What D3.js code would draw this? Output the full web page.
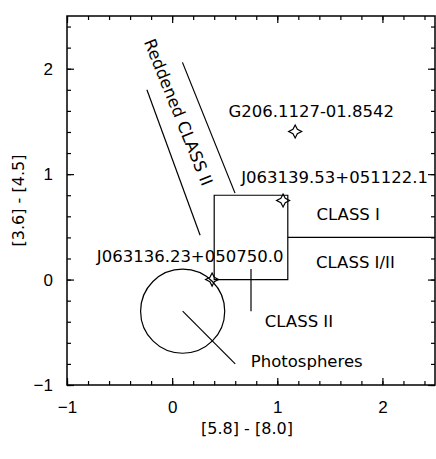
<!DOCTYPE html>
<meta charset="utf-8">
<style>
    body { margin: 0; background: #fff; }
    .tick text { font: 17px "Liberation Sans", Arial, sans-serif; fill: #000; }
    .axis path { display: none; }
    .axis line { stroke: #000; stroke-width: 1.2; }
    .ann { font: 16.5px "DejaVu Sans", sans-serif; fill: #000; }
    .title { font: 16px "DejaVu Sans", sans-serif; fill: #000; }
    .shape { fill: none; stroke: #000; stroke-width: 1.2; }
</style>
<body>
<script src="https://cdn.jsdelivr.net/npm/d3@7"></script>
<script>

    // axis ticks
    var xTicks = [-1, 0, 1, 2];
    var yTicks = [-1, 0, 1, 2];
    var minorTicks = [-1, -0.8, -0.6, -0.4, -0.2, 0, 0.2, 0.4, 0.6, 0.8, 1, 1.2, 1.4, 1.6, 1.8, 2, 2.2, 2.4];

    // class regions (data units)
    var classIBox = [[0.4, 0], [0.4, 0.8], [1.1, 0.8], [1.1, 0]];
    var classDivider = [[1.1, 0.4], [2.5, 0.4]];
    var classIIMark = [[0.75, 0.1], [0.75, -0.3]];
    var photoCenter = [0.1, -0.3], photoRadius = 0.4;
    var photoPointer = [[0.1, -0.3], [0.6, -0.8]];
    var reddenedUpper = [[0.098, 2.06], [0.598, 0.82]];
    var reddenedLower = [[-0.24, 1.80], [0.266, 0.42]];

    // sources
    var sourceNames = ["G206.1127-01.8542", "J063139.53+051122.1", "J063136.23+050750.0"];
    var sourceX = [1.17, 1.055, 0.38];
    var sourceY = [1.405, 0.75, 0.0];
    var sourceLabelX = [1.323, 1.545, 0.171];
    var sourceLabelY = [1.546, 0.914, 0.169];

    // region labels
    var regionLabels = ["CLASS I", "CLASS I/II", "CLASS II", "Photospheres"];
    var regionLabelX = [1.675, 1.743, 1.206, 1.28];
    var regionLabelY = [0.565, 0.109, -0.451, -0.83];

    var margin = { top: 16, right: 1, bottom: 74, left: 67 },
        width = 436 - margin.left - margin.right,
        height = 459 - margin.top - margin.bottom;

    var x = d3.scaleLinear().domain([-1, 2.5]).range([0, width]);
    var y = d3.scaleLinear().domain([-1, 2.5]).range([height, 0]);
    var fmt = d3.format("d");

    var svg = d3.select("body").append("svg")
        .attr("width", 436)
        .attr("height", 459)
        .append("g")
        .attr("transform", "translate(" + margin.left + "," + margin.top + ")");

    svg.append("clipPath").attr("id", "clip")
        .append("rect").attr("width", width).attr("height", height);

    // minor ticks on all four sides
    svg.append("g").attr("class", "axis").attr("transform", "translate(0," + height + ")")
        .call(d3.axisBottom(x).tickValues(minorTicks).tickSize(-4).tickFormat(""));
    svg.append("g").attr("class", "axis")
        .call(d3.axisTop(x).tickValues(minorTicks).tickSize(-4).tickFormat(""));
    svg.append("g").attr("class", "axis")
        .call(d3.axisLeft(y).tickValues(minorTicks).tickSize(-4).tickFormat(""));
    svg.append("g").attr("class", "axis").attr("transform", "translate(" + width + ",0)")
        .call(d3.axisRight(y).tickValues(minorTicks).tickSize(-4).tickFormat(""));

    // major ticks
    svg.append("g").attr("class", "axis").attr("transform", "translate(0," + height + ")")
        .call(d3.axisBottom(x).tickValues(xTicks).tickSize(-7).tickPadding(16).tickFormat(fmt));
    svg.append("g").attr("class", "axis")
        .call(d3.axisTop(x).tickValues(xTicks).tickSize(-7).tickFormat(""));
    svg.append("g").attr("class", "axis")
        .call(d3.axisLeft(y).tickValues(yTicks).tickSize(-7).tickPadding(14).tickFormat(fmt));
    svg.append("g").attr("class", "axis").attr("transform", "translate(" + width + ",0)")
        .call(d3.axisRight(y).tickValues(yTicks).tickSize(-7).tickFormat(""));

    // frame
    svg.append("rect")
        .attr("width", width).attr("height", height)
        .attr("fill", "none").attr("stroke", "#000").attr("stroke-width", 1.5);

    var plot = svg.append("g").attr("clip-path", "url(#clip)");
    var line = d3.line().x(function (d) { return x(d[0]); }).y(function (d) { return y(d[1]); });

    plot.append("path").attr("class", "shape").attr("d", line.curve(d3.curveLinearClosed)(classIBox));
    line.curve(d3.curveLinear);
    [classDivider, classIIMark, photoPointer, reddenedUpper, reddenedLower].forEach(function (seg) {
        plot.append("path").attr("class", "shape").attr("d", line(seg));
    });

    plot.append("circle").attr("class", "shape")
        .attr("cx", x(photoCenter[0])).attr("cy", y(photoCenter[1]))
        .attr("r", x(photoRadius) - x(0));

    // 4-pointed star markers
    var r = 6.5, ri = 2.2;
    var starPts = [[0, -r], [ri, -ri], [r, 0], [ri, ri], [0, r], [-ri, ri], [-r, 0], [-ri, -ri]];
    var starPath = d3.line().curve(d3.curveLinearClosed)(starPts);

    sourceNames.forEach(function (name, i) {
        svg.append("path").attr("class", "shape").attr("stroke-width", 1)
            .attr("d", starPath)
            .attr("transform", "translate(" + x(sourceX[i]) + "," + y(sourceY[i]) + ")");
        svg.append("text").attr("class", "ann")
            .attr("x", x(sourceLabelX[i])).attr("y", y(sourceLabelY[i]))
            .attr("text-anchor", "middle").text(name);
    });

    regionLabels.forEach(function (t, i) {
        svg.append("text").attr("class", "ann")
            .attr("x", x(regionLabelX[i])).attr("y", y(regionLabelY[i]))
            .attr("text-anchor", "middle").text(t);
    });

    // rotated label along reddening band
    svg.append("text").attr("class", "ann")
        .attr("text-anchor", "middle").attr("dominant-baseline", "central")
        .attr("transform", "translate(" + x(0.057) + "," + y(1.586) + ") rotate(68)")
        .text("Reddened CLASS II");

    // axis titles
    svg.append("text").attr("class", "title")
        .attr("x", width / 2 - 4).attr("y", height + 49)
        .attr("text-anchor", "middle").text("[5.8] - [8.0]");
    svg.append("text").attr("class", "title")
        .attr("transform", "translate(" + (-43) + "," + (height / 2) + ") rotate(-90)")
        .attr("text-anchor", "middle").text("[3.6] - [4.5]");

</script>
